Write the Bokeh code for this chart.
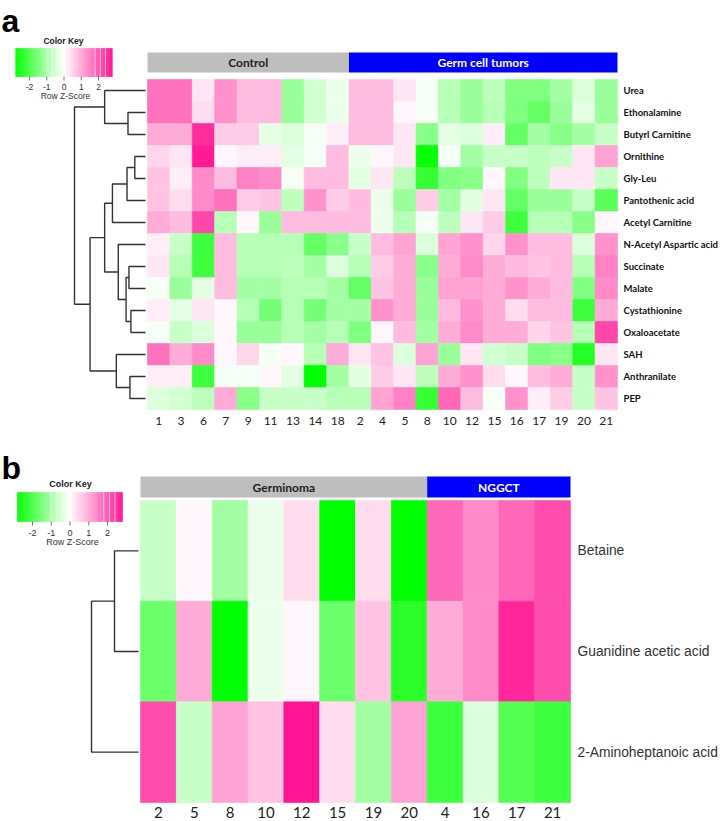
import numpy as np
from bokeh.plotting import figure
from bokeh.models import Range1d, ColumnDataSource, LinearColorMapper
from bokeh.transform import transform
from bokeh.embed import file_html
from bokeh.resources import INLINE
from bokeh.core.properties import value

# ---------------- data ----------------
cols_a = ["1", "3", "6", "7", "9", "11", "13", "14", "18",
          "2", "4", "5", "8", "10", "12", "15", "16", "17", "19", "20", "21"]
groups_a = ["Control", "Germ cell tumors"]
group_sizes_a = [9, 12]
rows_a = ["Urea", "Ethonalamine", "Butyrl Carnitine", "Ornithine", "Gly-Leu",
          "Pantothenic acid", "Acetyl Carnitine", "N-Acetyl Aspartic acid",
          "Succinate", "Malate", "Cystathionine", "Oxaloacetate", "SAH",
          "Anthranilate", "PEP"]
z_urea = [1.7, 1.7, 0.3, 1.3, 0.8, 0.8, -1.1, -0.5, -0.2, 0.8, 0.8, 0.3, -0.1, -0.8, -1.1, -0.7, -1.4, -1.4, -1.0, -0.4, -1.1]
z_ethon = [1.7, 1.7, 0.4, 1.3, 0.8, 0.8, -1.1, -0.5, -0.2, 0.8, 0.8, 0.1, -0.1, -0.8, -1.1, -0.8, -1.4, -1.7, -1.1, -0.3, -1.1]
z_butyrl = [1.0, 1.0, 2.5, 0.6, 0.6, -0.3, -0.4, -0.1, 0.2, 0.8, 0.8, 0.3, -1.3, -0.3, -0.4, 0.2, -1.7, -1.0, -1.3, -1.0, -0.6]
z_ornith = [0.5, 0.3, 2.7, 0.1, 0.2, 0.2, -0.3, -0.1, 0.8, -0.2, 0.1, 0.3, -2.7, -0.1, -1.0, -0.6, -0.6, -0.7, -0.6, 0.3, 1.1]
z_glyleu = [0.7, 0.2, 1.4, 0.8, 1.5, 1.4, -0.1, 0.8, 0.8, -0.3, 0.3, -0.7, -2.2, -1.4, -1.3, 0.1, -1.4, -0.7, 0.3, 0.3, -0.6]
z_panto = [0.7, 0.4, 1.4, 1.7, 0.6, 0.7, -0.7, 1.3, 0.6, 0.8, -0.2, -1.1, 0.6, -1.0, -0.3, 0.3, -1.7, -1.1, -1.1, -0.6, -1.8]
z_acetyl = [1.0, 0.8, 2.2, -0.8, 0.1, -1.1, 0.8, 0.8, 0.8, 0.8, -0.2, -0.8, -0.1, -0.7, 0.3, 0.6, -2.1, -0.8, -0.8, -1.3, 0.1]
z_naa = [0.2, -0.6, -2.1, 0.8, -0.8, -0.8, -0.8, -1.7, -1.3, -0.6, 0.8, 1.1, -0.4, 1.1, 1.3, 0.5, 1.3, 0.8, 0.8, -0.4, 1.3]
z_succ = [0.3, -0.8, -2.1, 0.8, -0.8, -0.8, -0.7, -1.0, -0.4, -0.8, 0.6, 1.0, -1.3, 1.0, 1.4, 1.0, 0.8, 0.7, 0.8, -0.8, 1.5]
z_malate = [-0.1, -1.1, -0.3, 0.8, -1.0, -1.0, -0.8, -0.8, -1.0, -1.7, 0.7, 1.0, -1.1, 1.1, 1.1, 1.0, 1.3, 1.0, 0.8, -1.4, 1.4]
z_cysta = [0.2, -0.3, 0.3, 0.1, -0.8, -1.5, -0.8, -1.5, -1.0, -1.0, 1.3, 1.0, -1.1, 0.8, 1.3, 1.0, 0.4, 0.8, 0.8, -2.1, 1.0]
z_oxalo = [-0.1, -0.6, -0.4, 0.1, -1.1, -1.1, -0.8, -1.0, -0.8, -1.4, 0.1, 0.8, -1.0, 1.0, 1.4, 1.0, 1.0, 0.5, 0.7, -0.8, 2.2]
z_sah = [1.7, 1.0, 1.4, 0.1, 0.5, -0.1, 0.1, -0.8, 1.0, 0.3, 0.7, -0.4, 1.1, -1.1, 0.3, -0.5, -0.6, -1.4, -1.3, -2.4, 0.3]
z_anthr = [0.2, 0.2, -2.1, -0.1, -0.1, 0.1, -0.3, -2.8, -1.0, -0.3, 0.6, 0.3, -0.7, 1.0, 1.3, 0.4, 0.1, 0.8, 1.0, -0.6, 1.3]
z_pep = [-0.4, -0.5, -0.7, 1.0, -1.3, -0.6, -0.6, -0.6, -0.8, -0.8, 1.1, 1.5, -2.2, 1.8, 0.8, -0.1, 1.3, 0.2, 0.6, -0.6, 0.7]
z_a = [z_urea, z_ethon, z_butyrl, z_ornith, z_glyleu, z_panto, z_acetyl, z_naa,
       z_succ, z_malate, z_cysta, z_oxalo, z_sah, z_anthr, z_pep]
# row dendrogram (panel a): (node, node, height); leaves 0..14, merges numbered from 15
merges_a = [(3, 4, 1.1), (15, 5, 1.9), (16, 6, 3.4), (8, 9, 1.7), (10, 11, 1.5),
            (18, 19, 2.0), (7, 20, 2.8), (17, 21, 4.2), (13, 14, 1.6), (12, 23, 3.0),
            (22, 24, 5.7), (1, 2, 1.8), (0, 26, 4.2), (27, 25, 7.3)]

cols_b = ["2", "5", "8", "10", "12", "15", "19", "20", "4", "16", "17", "21"]
groups_b = ["Germinoma", "NGGCT"]
group_sizes_b = [8, 4]
rows_b = ["Betaine", "Guanidine acetic acid", "2-Aminoheptanoic acid"]
z_betaine = [-0.6, 0.1, -1.0, -0.2, 0.4, -2.8, 0.4, -2.8, 1.8, 1.4, 1.8, 2.1]
z_guan = [-1.6, 1.0, -2.8, -0.2, 0.1, -1.6, 0.7, -2.3, 1.0, 1.4, 2.6, 2.1]
z_amino = [2.1, -0.6, 1.1, 0.7, 2.8, 0.4, -1.0, 1.1, -2.1, -0.4, -1.9, -2.1]
z_b = [z_betaine, z_guan, z_amino]
merges_b = [(0, 1, 2.4), (3, 2, 4.7)]

key_ticks = [-2, -1, 0, 1, 2]
key_break_lines = [-1.0, -0.7, 1.8, 2.1, 2.4]
z_lim = 2.8

# ---------------- styling / layout helpers ----------------
W, H = 722, 821


def rng_x(d0, p0, d1, p1):
    s = (d1 - d0) / (p1 - p0)
    return Range1d(start=d0 + (0 - p0) * s, end=d0 + (W - p0) * s)


def rng_y(d0, p0, d1, p1):
    s = (d1 - d0) / (p1 - p0)
    return Range1d(start=d0 + (H - p0) * s, end=d0 + (0 - p0) * s)


def make_palette(n=256):
    pal = []
    for i in range(n):
        t = i / (n - 1) * 2 - 1
        if t < 0:
            a = -t
            r, g, b = 255 * (1 - a), 255, 255 * (1 - a)
        else:
            r, g, b = 255, 255 - 235 * t, 255 - 108 * t
        pal.append("#%02x%02x%02x" % (int(round(r)), int(round(g)), int(round(b))))
    return pal


mapper = LinearColorMapper(palette=make_palette(), low=-z_lim, high=z_lim)

p = figure(width=W, height=H, output_backend="svg", toolbar_location=None,
           x_range=Range1d(0, W), y_range=Range1d(H, 0),
           x_axis_location=None, y_axis_location=None, min_border=0)
p.outline_line_color = None
p.grid.visible = False

p.extra_x_ranges = {
    "hax": rng_x(0, 147, len(cols_a), 617),
    "dax": rng_x(0, 145, 7.3, 74),
    "kax": rng_x(-2, 29, 2, 98),
    "hbx": rng_x(0, 140, len(cols_b), 570),
    "dbx": rng_x(0, 138, 4.7, 91),
    "kbx": rng_x(-2, 32, 2, 107),
}
p.extra_y_ranges = {
    "hay": rng_y(0, 79, len(rows_a), 409),
    "hby": rng_y(0, 500, len(rows_b), 802),
}

LABEL_FONT = value("Lato")
ARIAL = value("Liberation Sans")
DEND = "#333333"


def heatmap(cols, rows, z, xr, yr):
    xs, ys, zs = [], [], []
    for r, row in enumerate(z):
        for c, v in enumerate(row):
            xs.append(c + 0.5)
            ys.append(r + 0.5)
            zs.append(v)
    src = ColumnDataSource(dict(x=xs, y=ys, z=zs))
    p.rect(x="x", y="y", width=1, height=1, source=src,
           fill_color=transform("z", mapper), line_color=transform("z", mapper),
           line_width=0.6, x_range_name=xr, y_range_name=yr)


def header(groups, sizes, xr, top, bottom, colors, text_colors, size):
    edges = np.concatenate([[0], np.cumsum(sizes)])
    p.quad(left=edges[:-1], right=edges[1:], top=[top] * len(groups),
           bottom=[bottom] * len(groups), fill_color=colors, line_color=None,
           x_range_name=xr)
    p.text(x=(edges[:-1] + edges[1:]) / 2, y=[(top + bottom) / 2] * len(groups),
           text=groups, text_align="center", text_baseline="middle",
           text_font=LABEL_FONT, text_font_style="bold", text_font_size=size,
           text_color=text_colors, x_range_name=xr)


def dendrogram(merges, n_leaves, xr, yr, lw):
    pos = {i: (0.0, i + 0.5) for i in range(n_leaves)}
    xs, ys = [], []
    nid = n_leaves
    for a, b, h in merges:
        (ha, ya), (hb, yb) = pos[a], pos[b]
        xs.append([ha, h, h, hb])
        ys.append([ya, ya, yb, yb])
        pos[nid] = (h, (ya + yb) / 2)
        nid += 1
    p.multi_line(xs=xs, ys=ys, line_color=DEND, line_width=lw,
                 x_range_name=xr, y_range_name=yr)


def color_key(xr, top, bottom, tick_y, label_y, title_y, title_x, zlab_x, fsize):
    edges = np.linspace(-z_lim, z_lim, 141)
    mids = (edges[:-1] + edges[1:]) / 2
    src = ColumnDataSource(dict(l=edges[:-1], r=edges[1:], z=mids))
    p.quad(left="l", right="r", top=top, bottom=bottom, source=src,
           fill_color=transform("z", mapper), line_color=transform("z", mapper),
           line_width=0.5, x_range_name=xr)
    p.segment(x0=key_break_lines, x1=key_break_lines, y0=[top] * len(key_break_lines),
              y1=[bottom] * len(key_break_lines), line_color="white", line_width=0.8,
              line_alpha=0.8, x_range_name=xr)
    p.segment(x0=key_ticks, x1=key_ticks, y0=[bottom] * 5, y1=[bottom + 4] * 5,
              line_color="#555555", line_width=0.8, x_range_name=xr)
    p.text(x=key_ticks, y=[tick_y] * 5, text=[str(t) for t in key_ticks],
           text_align="center", text_baseline="middle", text_font=ARIAL,
           text_font_size=fsize, text_color="#333333", x_range_name=xr)
    p.text(x=[zlab_x], y=[label_y], text=["Row Z-Score"], text_align="center",
           text_baseline="middle", text_font=ARIAL, text_font_size=fsize,
           text_color="#333333")
    p.text(x=[title_x], y=[title_y], text=["Color Key"], text_align="center",
           text_baseline="middle", text_font=ARIAL, text_font_style="bold",
           text_font_size=fsize, text_color="#222222")


# ---------------- panel a ----------------
p.text(x=[1], y=[20], text=["a"], text_font=ARIAL, text_font_style="bold",
       text_font_size="32px", text_baseline="alphabetic", text_color="black")
color_key("kax", 48, 76, 86, 95, 40, 63, 65, "8.5px")
header(groups_a, group_sizes_a, "hax", 52, 72, ["#bebebe", "#0000ff"],
       ["#222222", "white"], "12px")
heatmap(cols_a, rows_a, z_a, "hax", "hay")
dendrogram(merges_a, len(rows_a), "dax", "hay", 1.4)
p.text(x=[len(cols_a)] * len(rows_a), y=[r + 0.5 for r in range(len(rows_a))],
       text=rows_a, x_offset=6, text_align="left", text_baseline="middle",
       text_font=LABEL_FONT, text_font_style="bold", text_font_size="9.5px",
       text_color="#111111", x_range_name="hax", y_range_name="hay")
p.text(x=[c + 0.5 for c in range(len(cols_a))], y=[420] * len(cols_a), text=cols_a,
       text_align="center", text_baseline="middle", text_font=LABEL_FONT,
       text_font_size="12px", text_color="#222222", x_range_name="hax")

# ---------------- panel b ----------------
p.text(x=[1], y=[467], text=["b"], text_font=ARIAL, text_font_style="bold",
       text_font_size="32px", text_baseline="alphabetic", text_color="black")
color_key("kbx", 492, 521, 532, 541, 483, 70, 72, "9px")
header(groups_b, group_sizes_b, "hbx", 476, 497, ["#bebebe", "#0000ff"],
       ["#222222", "white"], "12px")
heatmap(cols_b, rows_b, z_b, "hbx", "hby")
dendrogram(merges_b, len(rows_b), "dbx", "hby", 1.4)
p.text(x=[len(cols_b)] * len(rows_b), y=[r + 0.5 for r in range(len(rows_b))],
       text=rows_b, x_offset=7, text_align="left", text_baseline="middle",
       text_font=ARIAL, text_font_size="13.8px", text_color="#333333",
       x_range_name="hbx", y_range_name="hby")
p.text(x=[c + 0.5 for c in range(len(cols_b))], y=[812] * len(cols_b), text=cols_b,
       text_align="center", text_baseline="middle", text_font=LABEL_FONT,
       text_font_size="15px", text_color="#222222", x_range_name="hbx")

open("out.html", "w").write(file_html(p, INLINE))
